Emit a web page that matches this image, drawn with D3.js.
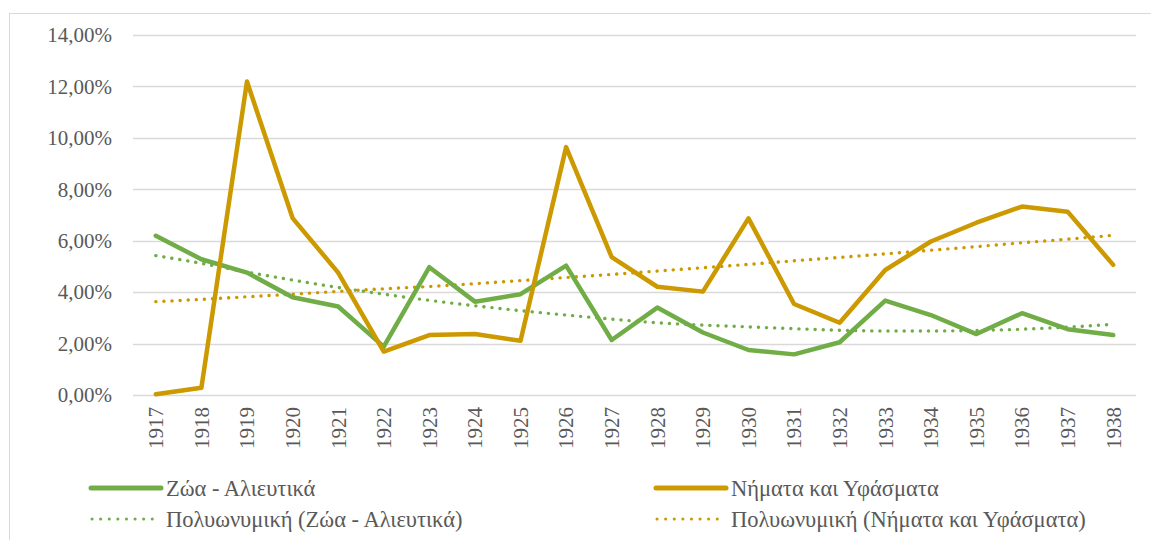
<!DOCTYPE html>
<html>
<head>
<meta charset="utf-8">
<script src="https://cdn.jsdelivr.net/npm/d3@7"></script>
<style>
  body { margin: 0; background: #fff; }
  svg { display: block; font-family: "Liberation Serif", "DejaVu Serif", serif; }
</style>
</head>
<body>
<svg id="chart" width="1151" height="540"></svg>
<script>
/* Line chart with two series and their polynomial trendlines */

var years = d3.range(1917, 1939).map(String);

var zoa = [6.19, 5.28, 4.76, 3.80, 3.44, 1.88, 4.97, 3.63, 3.92, 5.03, 2.14,
           3.40, 2.43, 1.75, 1.58, 2.05, 3.67, 3.11, 2.37, 3.18, 2.56, 2.33];

var nimata = [0.03, 0.28, 12.19, 6.88, 4.76, 1.69, 2.33, 2.37, 2.11, 9.64, 5.36,
              4.21, 4.02, 6.87, 3.54, 2.81, 4.86, 5.97, 6.70, 7.33, 7.13, 5.06];

var zoaTrend = [5.42, 5.12, 4.78, 4.47, 4.18, 3.92, 3.68, 3.47, 3.28, 3.11, 2.95,
                2.81, 2.72, 2.65, 2.58, 2.52, 2.49, 2.49, 2.51, 2.56, 2.64, 2.75];

var nimataTrend = [3.63, 3.72, 3.82, 3.92, 4.03, 4.13, 4.22, 4.33, 4.45, 4.57, 4.69,
                   4.82, 4.95, 5.08, 5.22, 5.35, 5.49, 5.63, 5.77, 5.92, 6.06, 6.21];

var yTicks = [0, 2, 4, 6, 8, 10, 12, 14];

var seriesNames = ['Ζώα - Αλιευτικά', 'Νήματα και Υφάσματα',
                   'Πολυωνυμική (Ζώα - Αλιευτικά)', 'Πολυωνυμική (Νήματα και Υφάσματα)'];

var green = '#70ad47',
    gold = '#cc9900',
    grid = '#d9d9d9',
    textColor = '#595959',
    fontFamily = '"Liberation Serif", "DejaVu Serif", serif';

var margin = { top: 35, right: 15, bottom: 145, left: 133 },
    width = 1136 - margin.left,
    height = 395 - margin.top;

var svg = d3.select('#chart');

// outer chart frame
svg.append('rect')
  .attr('x', 9.5)
  .attr('y', 13.5)
  .attr('width', 1160)
  .attr('height', 600)
  .attr('fill', 'none')
  .attr('stroke', '#d9d9d9')
  .attr('stroke-width', 1);

var g = svg.append('g')
  .attr('transform', 'translate(' + margin.left + ',' + margin.top + ')');

var x = d3.scaleBand()
  .domain(years)
  .range([0, width]);

var y = d3.scaleLinear()
  .domain([0, 14])
  .range([height, 0]);

// gridlines
g.append('g')
  .selectAll('line')
  .data(yTicks)
  .enter().append('line')
    .attr('x1', 0)
    .attr('x2', width)
    .attr('y1', function(d) { return Math.round(y(d)) + 0.5; })
    .attr('y2', function(d) { return Math.round(y(d)) + 0.5; })
    .attr('stroke', grid)
    .attr('stroke-width', 1.3);

// y axis labels
var yAxis = g.append('g')
  .call(d3.axisLeft(y).tickValues(yTicks)
    .tickSize(0)
    .tickPadding(21)
    .tickFormat(function(d) { return d.toFixed(2).replace('.', ',') + '%'; }));
yAxis.select('.domain').remove();
yAxis.selectAll('text')
  .attr('fill', textColor)
  .style('font-size', '21px')
  .style('font-family', fontFamily);

// x axis labels, rotated
var xAxis = g.append('g')
  .attr('transform', 'translate(0,' + height + ')')
  .call(d3.axisBottom(x).tickSize(0).tickPadding(0));
xAxis.select('.domain').remove();
xAxis.selectAll('text')
  .attr('fill', textColor)
  .attr('transform', 'rotate(-90)')
  .attr('text-anchor', 'end')
  .attr('x', -12)
  .attr('y', 0)
  .attr('dy', '0.35em')
  .style('font-size', '21px')
  .style('font-family', fontFamily);

var line = d3.line()
  .x(function(d, i) { return x(years[i]) + x.bandwidth() / 2; })
  .y(function(d) { return y(d); });

var smooth = d3.line()
  .x(function(d, i) { return x(years[i]) + x.bandwidth() / 2; })
  .y(function(d) { return y(d); })
  .curve(d3.curveMonotoneX);

// trendlines
[[zoaTrend, green], [nimataTrend, gold]].forEach(function(s) {
  g.append('path')
    .datum(s[0])
    .attr('d', smooth)
    .attr('fill', 'none')
    .attr('stroke', s[1])
    .attr('stroke-width', 3.4)
    .attr('stroke-linecap', 'round')
    .attr('stroke-dasharray', '0.1 8');
});

// data lines
[[zoa, green], [nimata, gold]].forEach(function(s) {
  g.append('path')
    .datum(s[0])
    .attr('d', line)
    .attr('fill', 'none')
    .attr('stroke', s[1])
    .attr('stroke-width', 4.5)
    .attr('stroke-linejoin', 'round')
    .attr('stroke-linecap', 'round');
});

// legend
var legendItems = [
  { name: seriesNames[0], color: green, dotted: false, x: 90, y: 488 },
  { name: seriesNames[1], color: gold, dotted: false, x: 655, y: 488 },
  { name: seriesNames[2], color: green, dotted: true, x: 90, y: 519 },
  { name: seriesNames[3], color: gold, dotted: true, x: 655, y: 519 }
];

var legend = svg.append('g')
  .selectAll('g')
  .data(legendItems)
  .enter().append('g')
  .attr('transform', function(d) { return 'translate(' + d.x + ',' + d.y + ')'; });

legend.append('line')
  .attr('x1', function(d) { return d.dotted ? 2 : 1; })
  .attr('x2', function(d) { return d.dotted ? 70 : 71; })
  .attr('y1', 0)
  .attr('y2', 0)
  .attr('stroke', function(d) { return d.color; })
  .attr('stroke-width', function(d) { return d.dotted ? 3 : 5; })
  .attr('stroke-linecap', 'round')
  .attr('stroke-dasharray', function(d) { return d.dotted ? '0.1 8.5' : null; });

legend.append('text')
  .attr('x', 76)
  .attr('y', 0)
  .attr('dy', '0.35em')
  .attr('fill', textColor)
  .style('font-size', '22.5px')
  .style('font-family', fontFamily)
  .text(function(d) { return d.name; });
</script>
</body>
</html>
